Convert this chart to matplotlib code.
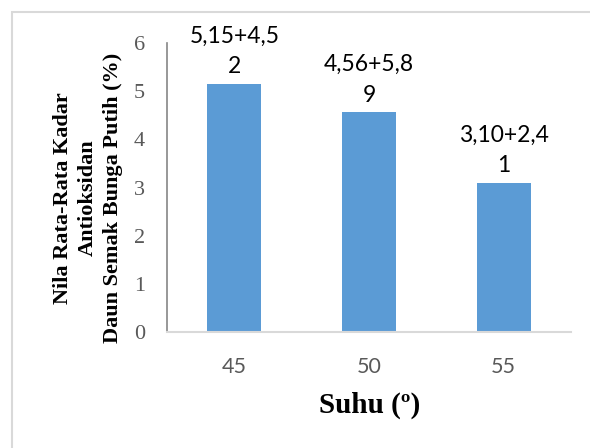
import matplotlib
matplotlib.use("Agg")
import matplotlib.pyplot as plt
from matplotlib.patches import Rectangle

# Data
suhu = ["45", "50", "55"]
kadar = [5.15, 4.56, 3.10]
sd = ["4,52", "5,89", "2,41"]
y_ticks = [0, 1, 2, 3, 4, 5, 6]

W, H = 590, 448
fig = plt.figure(figsize=(W / 100, H / 100), dpi=100)
fig.patch.set_facecolor("white")

# outer frame of the chart area
fig.add_artist(Rectangle((11.5 / W, -0.1), 1.2, 1 - 12.5 / H + 0.1,
                         transform=fig.transFigure, fill=False,
                         edgecolor="#d9d9d9", linewidth=1.5))

ax = fig.add_axes([167 / W, 1 - 332 / H, (571 - 167) / W, (332 - 43) / H])
x = list(range(len(suhu)))
ax.bar(x, kadar, width=0.4, color="#5b9bd5", zorder=2)

ax.set_xlim(-0.5, len(suhu) - 0.5)
ax.set_ylim(0, 6)
ax.set_yticks(y_ticks)
ax.set_yticklabels([str(t) for t in y_ticks], family="Liberation Serif",
                   fontsize=16, color="#595959")
ax.set_xticks(x)
ax.set_xticklabels(suhu, family="Lato", fontsize=15.5, color="#595959")
ax.tick_params(axis="both", length=0)
ax.tick_params(axis="y", pad=16)
ax.tick_params(axis="x", pad=18)

for s in ["top", "right"]:
    ax.spines[s].set_visible(False)
ax.spines["left"].set_color("#868686")
ax.spines["left"].set_linewidth(1.2)
ax.spines["bottom"].set_color("#d9d9d9")
ax.spines["bottom"].set_linewidth(1.5)

# value labels (mean + sd, wrapped as in the data table)
for xi, v, s in zip(x, kadar, sd):
    txt = f"{v:.2f}".replace(".", ",") + "+" + s[:-1] + "\n" + s[-1]
    ax.text(xi, v + 0.14, txt, ha="center", va="bottom", family="Lato",
            fontsize=16.5, color="black", linespacing=1.55)

fig.text(88 / W, 1 - 198 / H,
         "Nila Rata-Rata Kadar\nAntioksidan\nDaun Semak Bunga Putih (%)",
         rotation=90, ha="center", va="center", family="Liberation Serif",
         fontweight="bold", fontsize=16, linespacing=1.35)
fig.text(370 / W, 1 - 405 / H, "Suhu (º)", ha="center", va="center",
         family="Liberation Serif", fontweight="bold", fontsize=21)

fig.savefig("out.png", dpi=100)
